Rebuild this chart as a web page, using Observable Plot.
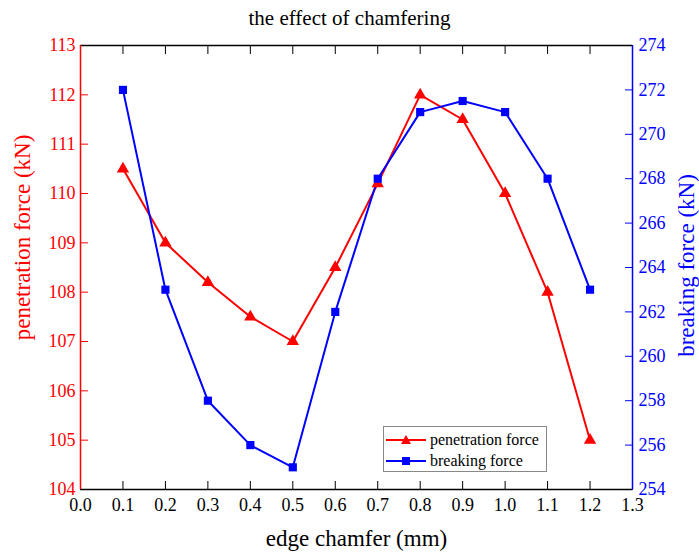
<!DOCTYPE html>
<html>
<head>
<meta charset="utf-8">
<script src="https://cdn.jsdelivr.net/npm/d3@7"></script>
<script src="https://cdn.jsdelivr.net/npm/@observablehq/plot@0.6"></script>
<style>
  body { margin: 0; background: #fff; font-family: "Liberation Serif", "Times New Roman", serif; }
  #wrap { position: relative; width: 699px; height: 559px; }
  #title { height: 36px; line-height: 36px; text-align: center; font-size: 21px; color: #000; }
  #legend { position: absolute; left: 383px; top: 426px; width: 164px; height: 46px; border: 1px solid #888; background: #fff; box-sizing: border-box; font-size: 16px; }
  .row { position: absolute; left: 0; height: 20px; display: flex; align-items: center; }
  .row svg { display: block; }
  .row span { margin-left: 3px; }
  #chart svg text { font-family: "Liberation Serif", "Times New Roman", serif !important; }
</style>
</head>
<body>
<div id="wrap">
  <div id="title">the effect of chamfering</div>
  <div id="chart"></div>
  <div id="legend">
    <div class="row" style="top:3px"><svg width="43" height="20"><line x1="2" y1="10" x2="42" y2="10" stroke="red" stroke-width="2"/><path d="M22,5 L27,14 L17,14 Z" fill="red"/></svg><span>penetration force</span></div>
    <div class="row" style="top:24px"><svg width="43" height="20"><line x1="2" y1="10" x2="42" y2="10" stroke="blue" stroke-width="2"/><rect x="18" y="6" width="8" height="8" fill="blue"/></svg><span>breaking force</span></div>
  </div>
</div>
<script>
const chamfer = [0.1, 0.2, 0.3, 0.4, 0.5, 0.6, 0.7, 0.8, 0.9, 1.0, 1.1, 1.2];
const penetration = [110.5, 109, 108.2, 107.5, 107, 108.5, 110.2, 112, 111.5, 110, 108, 105];
const breaking = [272, 263, 258, 256, 255, 262, 268, 271, 271.5, 271, 268, 263];
const xTicks = [0.0, 0.1, 0.2, 0.3, 0.4, 0.5, 0.6, 0.7, 0.8, 0.9, 1.0, 1.1, 1.2, 1.3];
const leftTicks = [104, 105, 106, 107, 108, 109, 110, 111, 112, 113];
const rightTicks = [254, 256, 258, 260, 262, 264, 266, 268, 270, 272, 274];

const L0 = 104, L1 = 113, R0 = 254, R1 = 274;
const toLeft = v => L0 + (v - R0) * (L1 - L0) / (R1 - R0);
const fromLeft = v => R0 + (v - L0) * (R1 - R0) / (L1 - L0);

const pen = chamfer.map((x, i) => ({x, y: penetration[i]}));
const brk = chamfer.map((x, i) => ({x, y: toLeft(breaking[i])}));

const FF = "'Liberation Serif', 'Times New Roman', serif";

const chart = Plot.plot({
  width: 699,
  height: 523,
  marginLeft: 80,
  marginRight: 67,
  marginTop: 9,
  marginBottom: 70,
  style: {fontFamily: FF, fontSize: "18px", background: "#fff"},
  x: {domain: [0, 1.3]},
  y: {domain: [L0, L1]},
  marks: [
    Plot.axisX(xTicks, {anchor: "bottom", tickSize: -8, tickPadding: 17, tickFormat: d => d.toFixed(1), color: "#000", label: null, fontSize: 18, fontFamily: FF}),
    Plot.axisX(xTicks, {anchor: "top", tickSize: -8, tickFormat: () => "", color: "#000", label: null}),
    Plot.axisY(leftTicks, {anchor: "left", tickSize: -8, tickPadding: 13, color: "red", label: null, fontSize: 18, fontFamily: FF}),
    Plot.axisY(rightTicks.map(toLeft), {anchor: "right", tickSize: -8, tickPadding: 14, tickFormat: d => String(Math.round(fromLeft(d))), color: "blue", label: null, fontSize: 18, fontFamily: FF}),
    Plot.ruleY([L0], {stroke: "#000", strokeWidth: 1.5}),
    Plot.ruleY([L1], {stroke: "#000", strokeWidth: 1.5}),
    Plot.ruleX([0], {stroke: "red", strokeWidth: 1.5}),
    Plot.ruleX([1.3], {stroke: "blue", strokeWidth: 1.5}),
    Plot.line(pen, {x: "x", y: "y", stroke: "red", strokeWidth: 2}),
    Plot.line(brk, {x: "x", y: "y", stroke: "blue", strokeWidth: 2}),
    Plot.dot(pen, {x: "x", y: "y", symbol: "triangle", fill: "red", r: 4.6}),
    Plot.dot(brk, {x: "x", y: "y", symbol: "square", fill: "blue", r: 4.6}),
    Plot.text(["edge chamfer (mm)"], {frameAnchor: "bottom", dy: 56, fontSize: 23, fill: "#000", fontFamily: FF}),
    Plot.text(["penetration force (kN)"], {frameAnchor: "left", textAnchor: "middle", rotate: -90, dx: -58, dy: -30, fontSize: 23, fill: "red", fontFamily: FF}),
    Plot.text(["breaking force (kN)"], {frameAnchor: "right", textAnchor: "middle", rotate: -90, dx: 54, dy: -2, fontSize: 23, fill: "blue", fontFamily: FF})
  ]
});
document.getElementById("chart").appendChild(chart);
</script>
</body>
</html>
